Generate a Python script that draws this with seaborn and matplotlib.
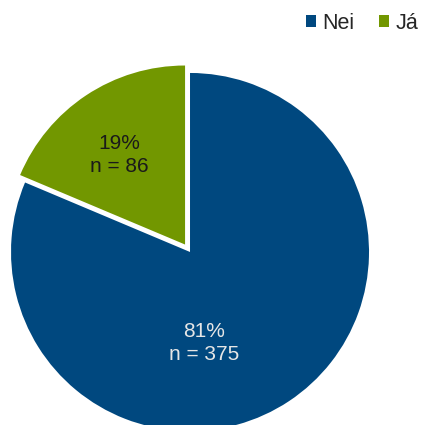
import seaborn as sns
import matplotlib.pyplot as plt

sns.set_style("white")
plt.rcParams["font.family"] = ["Liberation Sans", "DejaVu Sans"]

# Data
categories = ["Nei", "Já"]
counts = [375, 86]
colors = ["#00487F", "#729700"]
label_colors = ["#E6E6E6", "#1A1A1A"]

total = sum(counts)
labels = [f"{round(c / total * 100)}%\nn = {c}" for c in counts]

fig = plt.figure(figsize=(4.27, 4.25), dpi=100)
# pie centre near (190, 252) px, radius ~179 px, bottom slightly cropped
ax = fig.add_axes([0.0258, -0.0141, 0.8384, 0.8424])

wedges, _ = ax.pie(
    counts,
    colors=colors,
    startangle=90,
    counterclock=False,
    explode=[0, 0.05],
    wedgeprops=dict(linewidth=0),
)
ax.set_xlim(-1, 1)
ax.set_ylim(-1, 1)
ax.set_aspect("auto")
ax.axis("off")

label_pos = [(0.078, -0.508), (-0.397, 0.542)]
for (x, y), txt, col in zip(label_pos, labels, label_colors):
    ax.text(x, y, txt, ha="center", va="center", color=col,
            fontsize=15, linespacing=1.25)

fig.legend(
    wedges, categories,
    loc="upper right", bbox_to_anchor=(1.01, 1.0),
    ncol=2, frameon=False, fontsize=15.5,
    handlelength=0.45, handleheight=0.45, handletextpad=0.3,
    columnspacing=1.15, borderaxespad=0.2,
)

plt.savefig("out.png", dpi=100)
plt.close()
